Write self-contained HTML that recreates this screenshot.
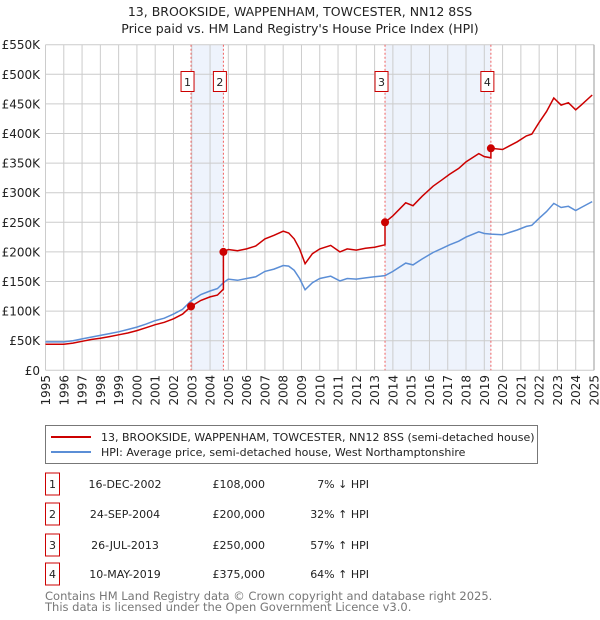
<!DOCTYPE html>
<html><head><meta charset="utf-8"><style>
body{margin:0;background:#fff;font-family:"DejaVu Sans","Liberation Sans",sans-serif;}
#wrap{position:relative;width:600px;height:620px;overflow:hidden;}
svg text{font-family:"DejaVu Sans","Liberation Sans",sans-serif;}
</style></head><body><div id="wrap">
<svg id="s" width="600" height="620">
<text x="300" y="16" text-anchor="middle" font-size="12.5" fill="#222">13, BROOKSIDE, WAPPENHAM, TOWCESTER, NN12 8SS</text>
<text x="300" y="33" text-anchor="middle" font-size="12.5" fill="#222">Price paid vs. HM Land Registry's House Price Index (HPI)</text>
<g id="plot"></g>
<g>
<rect x="45.5" y="425.5" width="492" height="38" fill="#fff" stroke="#777"/>
<line x1="51" y1="437" x2="91" y2="437" stroke="#cc0000" stroke-width="2"/>
<text x="101" y="441" font-size="11" fill="#222">13, BROOKSIDE, WAPPENHAM, TOWCESTER, NN12 8SS (semi-detached house)</text>
<line x1="51" y1="452" x2="91" y2="452" stroke="#5b8ed6" stroke-width="2"/>
<text x="101" y="456" font-size="11" fill="#222">HPI: Average price, semi-detached house, West Northamptonshire</text>
</g>
<g id="tbl" font-size="11" fill="#222"></g>
<text x="45" y="600" font-size="11.5" fill="#777">Contains HM Land Registry data © Crown copyright and database right 2025.</text>
<text x="45" y="611" font-size="11.5" fill="#777">This data is licensed under the Open Government Licence v3.0.</text>
</svg></div>
<script>
const years=[1995.0,1995.5,1996.0,1996.5,1997.0,1997.5,1998.0,1998.5,1999.0,1999.5,2000.0,2000.5,2001.0,2001.5,2002.0,2002.5,2002.96,2003.5,2004.0,2004.4,2004.73,2004.73,2005.0,2005.5,2006.0,2006.5,2007.0,2007.5,2008.0,2008.3,2008.6,2008.9,2009.2,2009.6,2010.0,2010.6,2011.1,2011.5,2012.0,2012.5,2013.0,2013.57,2013.57,2014.0,2014.7,2015.1,2015.6,2016.2,2016.7,2017.1,2017.6,2018.0,2018.7,2019.0,2019.36,2019.36,2020.0,2020.8,2021.3,2021.6,2022.0,2022.4,2022.8,2023.2,2023.6,2024.0,2024.3,2024.9];
const hpi=[48,48,48,50,53,56,59,62,65,69,73,78,84,88,95,103,117,128,134,138,148,148,154,152,155,158,167,171,177,176,169,155,136,148,155,159,151,155,154,156,158,160,160,167,181,178,188,199,206,212,218,225,234,231,230,230,229,237,243,245,257,268,282,275,277,270,275,285];
const price=[44,44,44,46,49,52,54,57,60,63,67,72,77,81,87,95,108,118,124,127,137,200,204,202,205,210,222,228,235,232,222,205,180,197,205,211,200,205,203,206,208,212,250,261,283,278,294,311,322,331,341,352,366,361,359,375,373,386,396,399,419,437,460,448,452,440,448,465];
const saleLabels=["1","2","3","4"];
const saleYears=[2002.96,2004.73,2013.57,2019.36];
const salePrices=[108,200,250,375];
const saleDates=["16-DEC-2002","24-SEP-2004","26-JUL-2013","10-MAY-2019"];
const salePriceText=["£108,000","£200,000","£250,000","£375,000"];
const saleHpiText=["7% ↓ HPI","32% ↑ HPI","57% ↑ HPI","64% ↑ HPI"];
const yTicks=[0,50,100,150,200,250,300,350,400,450,500,550];
const yTickLabels=["£0","£50K","£100K","£150K","£200K","£250K","£300K","£350K","£400K","£450K","£500K","£550K"];
const xTicks=[1995,1996,1997,1998,1999,2000,2001,2002,2003,2004,2005,2006,2007,2008,2009,2010,2011,2012,2013,2014,2015,2016,2017,2018,2019,2020,2021,2022,2023,2024,2025];

const X0=45.5,X1=594,Y0=370.3,Y1=44.7;
const xs=y=>X0+(y-1995)/30*(X1-X0);
const ys=v=>Y0-v/550*(Y0-Y1);
const NS="http://www.w3.org/2000/svg";
const plot=document.getElementById('plot');
function mk(tag,attrs,parent){const e=document.createElementNS(NS,tag);for(const k in attrs)e.setAttribute(k,attrs[k]);(parent||plot).appendChild(e);return e;}

// shading
for(let i=0;i<4;i+=2){
  const r=mk('rect',{x:xs(saleYears[i]),y:Y1,width:xs(saleYears[i+1])-xs(saleYears[i]),height:Y0-Y1,fill:'#eef3fc'});
  
  
}
// grid
yTicks.forEach((t,i)=>{
  const l=mk('line',{x1:X0,x2:X1,y1:ys(t),y2:ys(t),stroke:'#cccccc','stroke-width':1});
  
  
  const tx=mk('text',{x:40,y:ys(t)+4.5,'text-anchor':'end','font-size':12,fill:'#222'});
  tx.textContent=yTickLabels[i];
  
  
});
xTicks.forEach(t=>{
  const l=mk('line',{x1:xs(t),x2:xs(t),y1:Y1,y2:Y0,stroke:t==2025?'#999':'#cccccc','stroke-width':1});
  
  
  const tx=mk('text',{x:0,y:0,'text-anchor':'end','font-size':12,fill:'#222',transform:`translate(${xs(t)+4.5},375) rotate(-90)`});
  tx.textContent=t;
  
  
});
// sale lines + labels
saleYears.forEach((y,i)=>{
  const l=mk('line',{x1:xs(y),x2:xs(y),y1:Y1,y2:Y0,stroke:'#f06060','stroke-width':1,'stroke-dasharray':'2,2'});
  
  
  const cx=xs(y)-3.5;
  const b=mk('rect',{x:cx-6.5,y:71.5,width:13,height:20,fill:'#fff',stroke:'#cc0000'});
  
  
  const t=mk('text',{x:cx,y:86,'text-anchor':'middle','font-size':11,fill:'#222'});
  t.textContent=saleLabels[i];
  
  
});
// series
const path=arr=>arr.map((v,i)=>(i?'L':'M')+xs(years[i]).toFixed(1)+','+ys(v).toFixed(1)).join('');
const hp=mk('path',{d:path(hpi),fill:'none',stroke:'#5b8ed6','stroke-width':1.5});


const pp=mk('path',{d:path(price),fill:'none',stroke:'#cc0000','stroke-width':1.5});


saleYears.forEach((y,i)=>{
  const c=mk('circle',{cx:xs(y),cy:ys(salePrices[i]),r:4,fill:'#cc0000'});
  
  
});
// table
const tbl=document.getElementById('tbl');
const rowY=[484,514,545,574];
saleLabels.forEach((s,i)=>{
  const y=rowY[i];
  const b=mk('rect',{x:45.5,y:y-11,width:14,height:22,fill:'#fff',stroke:'#cc0000'},tbl);
  
  
  const t0=mk('text',{x:52.5,y:y+4,'text-anchor':'middle'},tbl);t0.textContent=s;
  
  
  const t1=mk('text',{x:125,y:y+4,'text-anchor':'middle'},tbl);t1.textContent=saleDates[i];
  
  
  const t2=mk('text',{x:265,y:y+4,'text-anchor':'end'},tbl);t2.textContent=salePriceText[i];
  
  
  const t3=mk('text',{x:369,y:y+4,'text-anchor':'end'},tbl);t3.textContent=saleHpiText[i];
  
  
});
</script></body></html>
